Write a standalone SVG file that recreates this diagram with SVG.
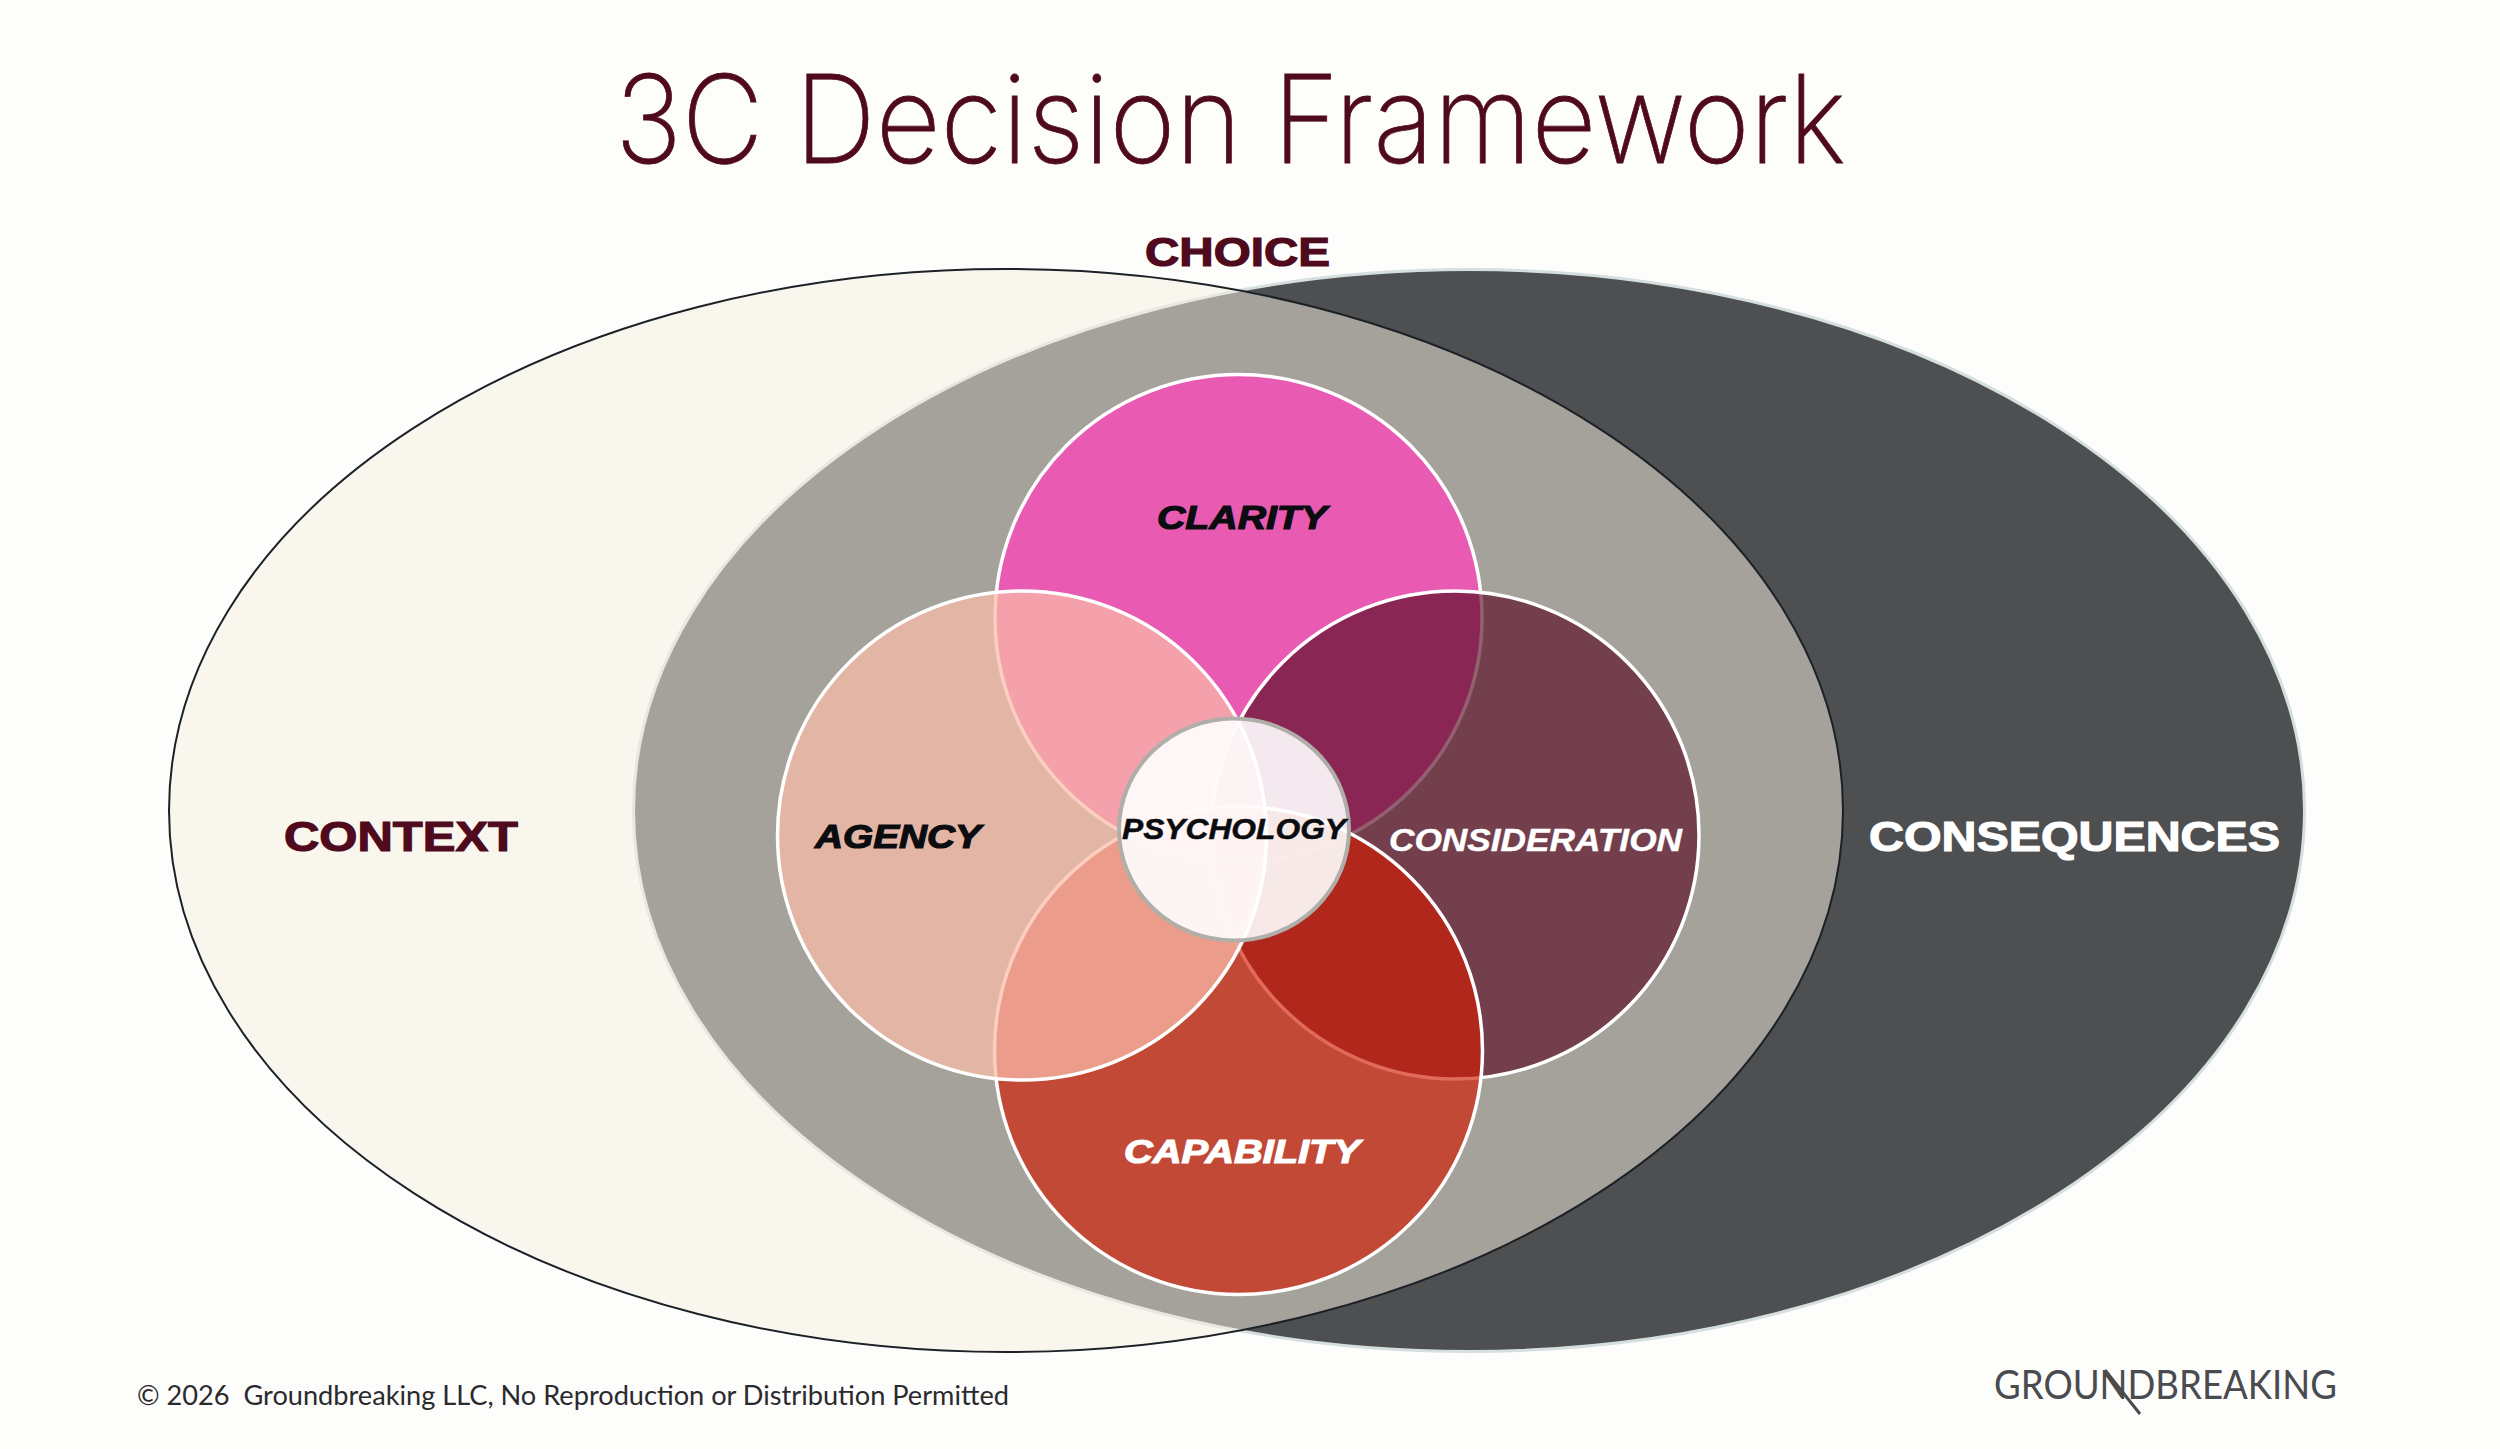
<svg xmlns="http://www.w3.org/2000/svg" width="2500" height="1449" viewBox="0 0 2500 1449">
<style>
.lab{font-family:"Liberation Sans",Arial,sans-serif;font-weight:700;stroke-width:1.2;paint-order:stroke}
.it{font-style:italic}
.mar{fill:#4f0a1e;stroke:#4f0a1e}
.wht{fill:#fff;stroke:#fff}
.blk{fill:#0b0c10;stroke:#0b0c10}
.pet{stroke:#fff;stroke-width:3.5}
</style>
<rect id="background" width="2500" height="1449" fill="#fdfdfb"/>
<text id="title" x="615" y="163" font-family="Inter,sans-serif" font-weight="200" font-size="122" fill="#4f0a1e" stroke="#4f0a1e" stroke-width=".8" textLength="1231" lengthAdjust="spacingAndGlyphs">3C Decision Framework</text>
<g id="consequences"><ellipse cx="1469" cy="810.5" rx="835.5" ry="541" fill="#4e4f51" stroke="#d5dfe0" stroke-width="3"/>
<text class="lab wht" x="1869" y="851" font-size="42" textLength="411" lengthAdjust="spacingAndGlyphs">CONSEQUENCES</text></g>
<g id="context"><ellipse cx="1006" cy="810.5" rx="837" ry="541.5" fill="#f5efe2" fill-opacity=".52" stroke="#1c2128" stroke-width="2"/>
<text class="lab mar" x="284" y="851" font-size="42" textLength="234" lengthAdjust="spacingAndGlyphs">CONTEXT</text></g>
<g id="choice"><text class="lab mar" x="1145" y="266" font-size="40" textLength="185" lengthAdjust="spacingAndGlyphs">CHOICE</text></g>
<g id="clarity"><circle class="pet" cx="1238.5" cy="618" r="243.5" fill="#e95bb3"/></g>
<g id="consideration"><circle class="pet" cx="1455" cy="835" r="244" fill="#570b22" fill-opacity=".65"/></g>
<g id="capability"><circle class="pet" cx="1238.5" cy="1050.5" r="244" fill="#d21a02" fill-opacity=".65"/></g>
<g id="agency"><circle class="pet" cx="1022" cy="835.5" r="244.5" fill="#fabca8" fill-opacity=".73"/></g>
<g id="psychology"><ellipse cx="1234" cy="829.5" rx="115" ry="111" fill="#fff" fill-opacity=".9" stroke="#b0aea8" stroke-width="4"/></g>
<g id="labels">
<text class="lab it blk" x="1157" y="529" font-size="34" textLength="170" lengthAdjust="spacingAndGlyphs">CLARITY</text>
<text class="lab it blk" x="815" y="848" font-size="34" textLength="166" lengthAdjust="spacingAndGlyphs">AGENCY</text>
<text class="lab it wht" x="1389" y="851" font-size="32" textLength="293" lengthAdjust="spacingAndGlyphs" style="stroke-width:.4">CONSIDERATION</text>
<text class="lab it wht" x="1124" y="1163" font-size="34" textLength="236" lengthAdjust="spacingAndGlyphs">CAPABILITY</text>
<text class="lab it blk" x="1122" y="839" font-size="30" textLength="224" lengthAdjust="spacingAndGlyphs" style="stroke-width:.5">PSYCHOLOGY</text>
</g>
<g id="footer"><text x="137" y="1405" font-family="Lato,sans-serif" font-weight="400" font-size="26" fill="#2a2a2e" textLength="872" lengthAdjust="spacingAndGlyphs" style="white-space:pre">© 2026  Groundbreaking LLC, No Reproduction or Distribution Permitted</text></g>
<g id="logo"><text x="1994" y="1399" font-family="Lato,sans-serif" font-weight="400" font-size="40" fill="#4a4b4f" textLength="343" lengthAdjust="spacingAndGlyphs">GROUNDBREAKING</text>
<line x1="2105" y1="1370" x2="2140" y2="1414" stroke="#4a4b4f" stroke-width="3"/></g>
</svg>
